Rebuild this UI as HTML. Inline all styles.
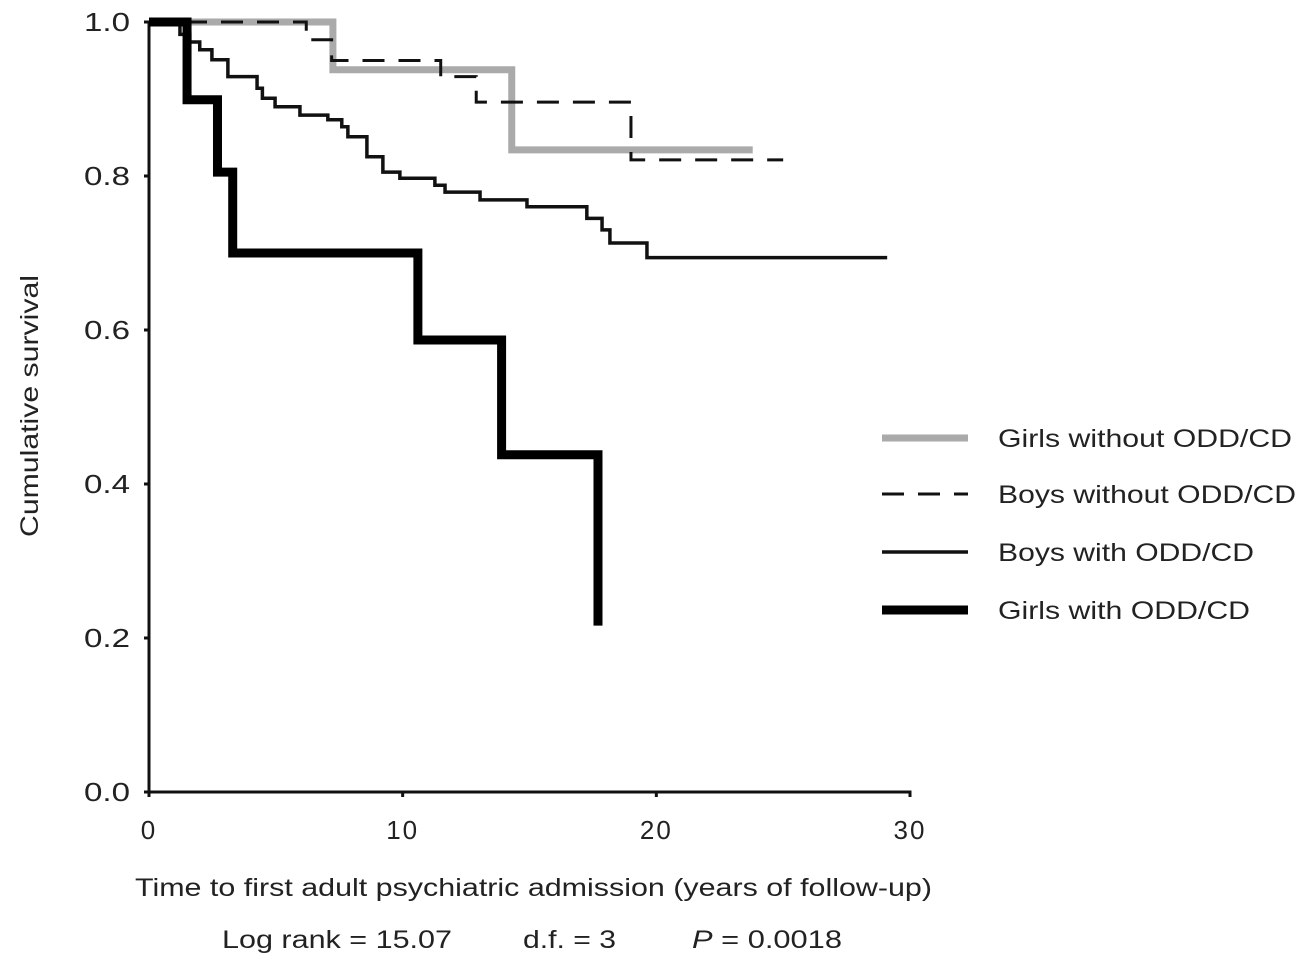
<!DOCTYPE html>
<html><head><meta charset="utf-8"><style>
body{margin:0;background:#fff;}
svg{display:block;font-family:"Liberation Sans",Arial,sans-serif;fill:#222;}
</style></head><body>
<svg id="chart" width="1304" height="963" viewBox="0 0 1304 963" xmlns="http://www.w3.org/2000/svg">
<g id="axes"></g>
<g id="series"></g>
<text x="0" y="0" font-size="25" text-anchor="middle" textLength="262" lengthAdjust="spacingAndGlyphs" transform="translate(38,406) rotate(-90)">Cumulative survival</text>
<text x="135" y="896" font-size="25" textLength="797" lengthAdjust="spacingAndGlyphs">Time to first adult psychiatric admission (years of follow-up)</text>
<text x="222" y="948" font-size="25" textLength="230" lengthAdjust="spacingAndGlyphs">Log rank = 15.07</text>
<text x="523" y="948" font-size="25" textLength="93" lengthAdjust="spacingAndGlyphs">d.f. = 3</text>
<text x="692" y="948" font-size="25" textLength="150" lengthAdjust="spacingAndGlyphs"><tspan font-style="italic">P</tspan> = 0.0018</text>
<g id="legend"></g>
</svg>
<script>
const xTicks=[0,10,20,30];
const yTicks=[0.0,0.2,0.4,0.6,0.8,1.0];
const girlsNoT=[0,7.25,14.3,23.8];
const girlsNoS=[1.0,0.938,0.834,0.834];
const boysNoT=[0,6.2,7.2,11.5,12.9,19.0,25.0];
const boysNoS=[1.0,0.977,0.95,0.929,0.896,0.821,0.821];
const boysWithT=[0,1.22,1.61,2.0,2.48,3.11,4.26,4.47,4.97,5.95,7.05,7.6,7.84,8.59,9.22,9.89,11.27,11.67,13.05,14.9,17.26,17.86,18.17,19.63,29.1];
const boysWithS=[1.0,0.984,0.974,0.964,0.951,0.929,0.914,0.901,0.890,0.879,0.873,0.864,0.851,0.825,0.805,0.797,0.788,0.779,0.769,0.760,0.745,0.730,0.713,0.694,0.694];
const girlsWithT=[0,1.5,2.7,3.3,10.6,13.9,17.7];
const girlsWithS=[1.0,0.899,0.805,0.70,0.587,0.438,0.216];
const legendLabels=["Girls without ODD/CD","Boys without ODD/CD","Boys with ODD/CD","Girls with ODD/CD"];
const legendWidths=[294,298,256,252];

const NS="http://www.w3.org/2000/svg";
const X=v=>149+v*(761/30);
const Y=v=>792-v*770;
function mk(tag,attrs,parent){const e=document.createElementNS(NS,tag);for(const k in attrs)e.setAttribute(k,attrs[k]);parent.appendChild(e);return e;}
const axes=document.getElementById('axes');
let e=mk('line',{x1:X(0)-1.5,y1:Y(0),x2:X(30)+1.5,y2:Y(0),stroke:'#111','stroke-width':3},axes);


e=mk('line',{x1:X(0),y1:Y(0),x2:X(0),y2:Y(1)-1,stroke:'#111','stroke-width':3},axes);


xTicks.forEach(t=>{
  const l=mk('line',{x1:X(t),y1:Y(0),x2:X(t),y2:Y(0)+5,stroke:'#111','stroke-width':3},axes);
  
  
  const tx=mk('text',{x:X(t),y:839,'font-size':26,'text-anchor':'middle','letter-spacing':2},axes);tx.textContent=t;
  
  
});
yTicks.forEach(t=>{
  const l=mk('line',{x1:X(0)-5,y1:Y(t),x2:X(0),y2:Y(t),stroke:'#111','stroke-width':3},axes);
  
  
  const tx=mk('text',{x:84,y:Y(t)+9,'font-size':26,textLength:46,lengthAdjust:'spacingAndGlyphs'},axes);tx.textContent=t.toFixed(1);
  
  
});
const styles=[
 {stroke:'#aaa','stroke-width':7},
 {stroke:'#111','stroke-width':3,'stroke-dasharray':'22,14'},
 {stroke:'#111','stroke-width':3.5},
 {stroke:'#000','stroke-width':9}
];
function stepPath(T,S){let d='M'+X(T[0])+','+Y(S[0]);for(let i=1;i<T.length;i++){d+=' H'+X(T[i])+' V'+Y(S[i]);}return d;}
const ser=document.getElementById('series');
const data=[[girlsNoT,girlsNoS,'curve-girls-without'],[boysNoT,boysNoS,'curve-boys-without'],[boysWithT,boysWithS,'curve-boys-with'],[girlsWithT,girlsWithS,'curve-girls-with']];
data.forEach((d,i)=>{
  const p=mk('path',Object.assign({d:stepPath(d[0],d[1]),fill:'none','stroke-linejoin':'miter'},styles[i]),ser);
  
  
});
const leg=document.getElementById('legend');
const ly=[438,494,552,610];
legendLabels.forEach((lab,i)=>{
  const l=mk('line',Object.assign({x1:882,x2:968,y1:ly[i],y2:ly[i]},styles[i]),leg);
  
  
  const t=mk('text',{x:998,y:ly[i]+9,'font-size':25,textLength:legendWidths[i],lengthAdjust:'spacingAndGlyphs'},leg);t.textContent=lab;
  
  
});
</script>
</body></html>
